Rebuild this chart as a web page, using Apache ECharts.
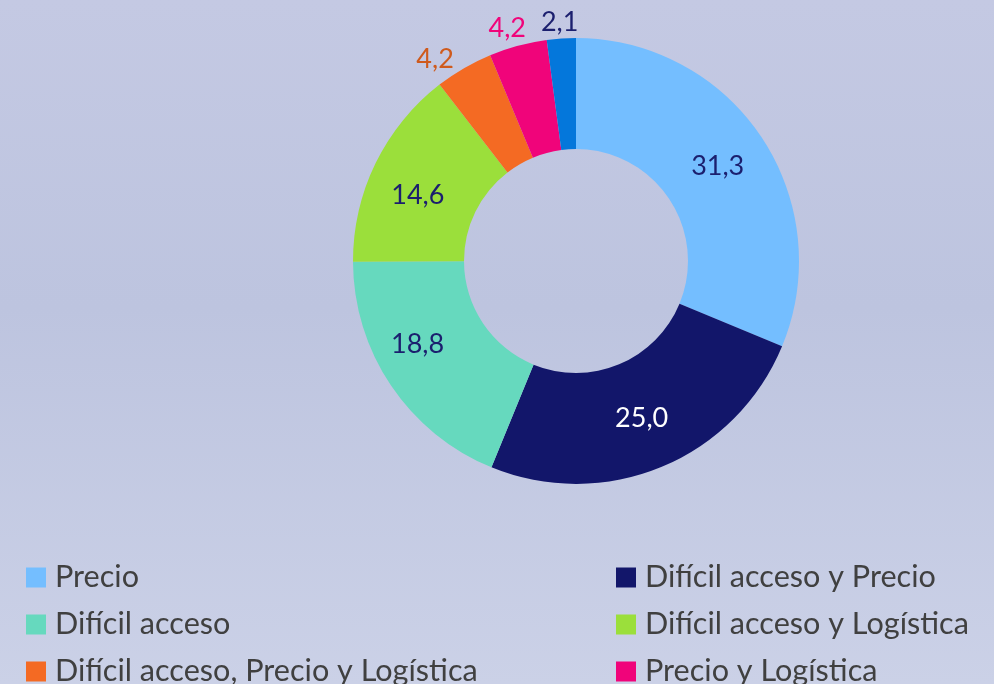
<!DOCTYPE html>
<html>
<head>
<meta charset="utf-8">
<script src="https://cdn.jsdelivr.net/npm/echarts@6/dist/echarts.min.js"></script>
<style>
  html, body { margin: 0; padding: 0; }
  #chart { width: 994px; height: 684px; }
</style>
</head>
<body>
<div id="chart"></div>
<script>
// valores del gráfico (%)
const categories = [
  "Precio",
  "Difícil acceso y Precio",
  "Difícil acceso",
  "Difícil acceso y Logística",
  "Difícil acceso, Precio y Logística",
  "Precio y Logística",
  "Logística"
];
const values = [31.3, 25.0, 18.8, 14.6, 4.2, 4.2, 2.1];
const colors = ["#74BEFF", "#12166A", "#66D9BE", "#9BDF3B", "#F46A23", "#F0047A", "#0477DB"];
const labelColors = ["#1B1F6E", "#FFFFFF", "#1B1F6E", "#1B1F6E", "#CF5A1C", "#F0047A", "#1B1F6E"];

const leftLegend = [categories[0], categories[2], categories[4], categories[6]];
const rightLegend = [categories[1], categories[3], categories[5]];

const fmt = (v) => v.toFixed(1).replace(".", ",");
const isSmall = (v) => v < 10;

// pequeños ajustes de las etiquetas
const labelOffsets = { 2: [-17, -12], 3: [-5, 9], 4: [-16, 13], 5: [-4, 7], 6: [0, 9] };

const mainData = values.map((v, i) => ({
  name: categories[i],
  value: v,
  itemStyle: { color: colors[i] },
  label: { show: !isSmall(v), color: labelColors[i], offset: labelOffsets[i] || [0, 0] }
}));

const outerData = values.map((v, i) => ({
  name: categories[i],
  value: v,
  itemStyle: { color: "rgba(0,0,0,0)" },
  label: { show: isSmall(v), color: labelColors[i], offset: labelOffsets[i] || [0, 0] }
}));

const legendBase = {
  orient: "vertical",
  icon: "rect",
  itemWidth: 20,
  itemHeight: 20,
  itemGap: 16,
  padding: 0,
  top: 562,
  height: 400,
  selectedMode: false,
  textStyle: {
    fontFamily: "Lato",
    fontSize: 30.6,
    lineHeight: 30,
    color: "#404040",
    padding: [0, 0, 0, 4]
  }
};

const chart = echarts.init(document.getElementById("chart"));
chart.setOption({
  animation: false,
  backgroundColor: new echarts.graphic.LinearGradient(0, 0, 0, 1, [
    { offset: 0, color: "#C4C9E3" },
    { offset: 0.45, color: "#BDC4DF" },
    { offset: 1, color: "#CBD1E7" }
  ]),
  legend: [
    Object.assign({}, legendBase, { left: 26, data: leftLegend }),
    Object.assign({}, legendBase, { left: 616, data: rightLegend })
  ],
  series: [
    {
      type: "pie",
      center: [576, 261],
      radius: [112, 223],
      startAngle: 90,
      clockwise: true,
      silent: true,
      data: mainData,
      label: {
        position: "inside",
        fontFamily: "Lato",
        fontSize: 27,
        formatter: (p) => fmt(p.value)
      },
      labelLine: { show: false }
    },
    {
      type: "pie",
      center: [576, 261],
      radius: [223, 268],
      startAngle: 90,
      clockwise: true,
      silent: true,
      data: outerData,
      label: {
        position: "inside",
        fontFamily: "Lato",
        fontSize: 27,
        formatter: (p) => fmt(p.value)
      },
      labelLine: { show: false }
    }
  ]
});
</script>
</body>
</html>
